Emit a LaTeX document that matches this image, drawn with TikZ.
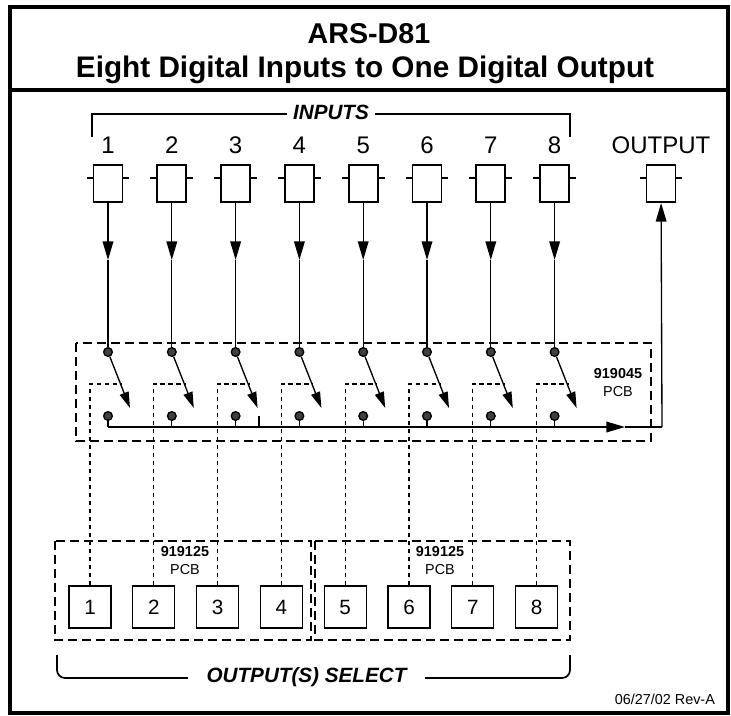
\documentclass[tikz,border=0pt]{standalone}
\usepackage{fontspec}
\setmainfont{Liberation Sans}
\usetikzlibrary{arrows.meta}

\begin{document}
\begin{tikzpicture}[x=0.75pt, y=-0.75pt, node distance=47.85pt, line width=1pt,
    jack/.style={draw, rectangle, line width=1.4pt, minimum width=21.75pt, minimum height=27.75pt, inner sep=0pt},
    btn/.style={draw, rectangle, minimum size=31.5pt, inner sep=0pt, font=\fontsize{15.5}{15.5}\selectfont},
    contact/.style={circle, draw, fill=black!75, minimum size=6.5pt, inner sep=0pt},
    pcb/.style={line width=1.5pt, dash pattern=on 6.5pt off 4pt},
    relay/.style={line width=0.8pt, dash pattern=on 3.5pt off 2.5pt},
    sig/.style={-{Triangle[length=14pt,width=8pt]}},
    armtip/.style={-{Triangle[length=12pt,width=7pt]}},
    num/.style={anchor=base, font=\fontsize{18}{20}\selectfont},
    tag/.style={align=center, font=\fontsize{10.8}{13.5}\selectfont},
    heading/.style={anchor=base, font=\bfseries\fontsize{21.5}{24}\selectfont},
    bracketlbl/.style={fill=white, inner ysep=1pt, font=\bfseries\itshape\fontsize{15.5}{17}\selectfont}]
  \useasboundingbox (0,0) rectangle (731,715);
  % frame and title
  \draw[line width=3pt] (10.3,6.7) rectangle (727.5,712.5);
  \draw[line width=3pt] (10.3,90) -- (727.5,90);
  \node[heading] (ars) at (369,43) {ARS-D81};
  \node[heading, font=\bfseries\fontsize{22.3}{24}\selectfont] (sub) at (365,77) {Eight Digital Inputs to One Digital Output};

  % input and output jacks
  \node[jack] (in1) at (108,183.5) {};
  \node[jack] (in2) [right of=in1] {};
  \node[jack] (in3) [right of=in2] {};
  \node[jack] (in4) [right of=in3] {};
  \node[jack] (in5) [right of=in4] {};
  \node[jack] (in6) [right of=in5] {};
  \node[jack] (in7) [right of=in6] {};
  \node[jack] (in8) [right of=in7] {};
  \node[jack] (out) at (661,183.5) {};
  \foreach \n in {in1,in2,in3,in4,in5,in6,in7,in8,out} {
    \draw[line width=1.4pt] ([yshift=4pt]\n.west) -- +(-6,0);
    \draw[line width=1.4pt] ([yshift=4pt]\n.east) -- +(6,0);
  }
  \foreach \i in {1,...,8}
    \node[num] (n\i) at ([yshift=8.25pt]in\i.north) {\i};
  \node[num] (nout) at ([yshift=8.25pt]out.north) {OUTPUT};

  % brackets
  \draw[line width=1.3pt] (92,137) |- (570,114) -- (570,137);
  \node[bracketlbl, inner xsep=4.5pt] (inputs) at (331,112) {INPUTS};
  \draw[line width=1.3pt, rounded corners=6pt] (57,655) |- (570,678) -- (570,655);
  \node[bracketlbl, inner xsep=14pt, anchor=base] (select) at (306.5,682) {OUTPUT(S) SELECT};

  % select buttons
  \node[btn] (b1) at (90,607) {1};
  \node[btn] (b2) [right of=b1] {2};
  \node[btn] (b3) [right of=b2] {3};
  \node[btn] (b4) [right of=b3] {4};
  \node[btn] (b5) [right of=b4] {5};
  \node[btn] (b6) [right of=b5] {6};
  \node[btn] (b7) [right of=b6] {7};
  \node[btn] (b8) [right of=b7] {8};

  % pcb outlines
  \draw[pcb] (76,343) rectangle (651,441);
  \draw[pcb] (55,541) rectangle (311,640);
  \draw[pcb] (315,541) rectangle (570,640);
  \node[tag] (pcbsw) at (618,383) {\textbf{919045}\\PCB};
  \node[tag] (pcbl) at (185,561) {\textbf{919125}\\PCB};
  \node[tag] (pcbr) at (440,561) {\textbf{919125}\\PCB};

  % switches
  \coordinate (busL) at (108,427);
  \coordinate (busM) at (625,427);
  \coordinate (busR) at (662,427);
  \coordinate (notch) at (259,416);
  \foreach \i in {1,...,8} {
    \node[contact] (t\i) at (in\i |- 0,352) {};
    \node[contact] (s\i) at (in\i |- 0,416) {};
    \coordinate (m\i) at (in\i |- 0,260);
    \coordinate (a\i) at ([shift={(22,56)}]t\i.center);
    \coordinate (r\i) at ([shift={(14,32)}]t\i.center);
    \path (in\i) edge[sig]    (m\i)
          (m\i)  edge         (t\i)
          (t\i)  edge[armtip] (a\i)
          (s\i)  edge         (s\i |- busL);
    \draw[relay] (b\i.north) |- (r\i);
  }
  \path (busL)  edge[sig] (busM)
        (busM)  edge      (busR)
        (busR)  edge[sig] (out)
        (notch) edge      (notch |- busL);

  \node[tag, anchor=base east] (rev) at (720,704) {06/27/02 Rev-A};
\end{tikzpicture}
\end{document}
